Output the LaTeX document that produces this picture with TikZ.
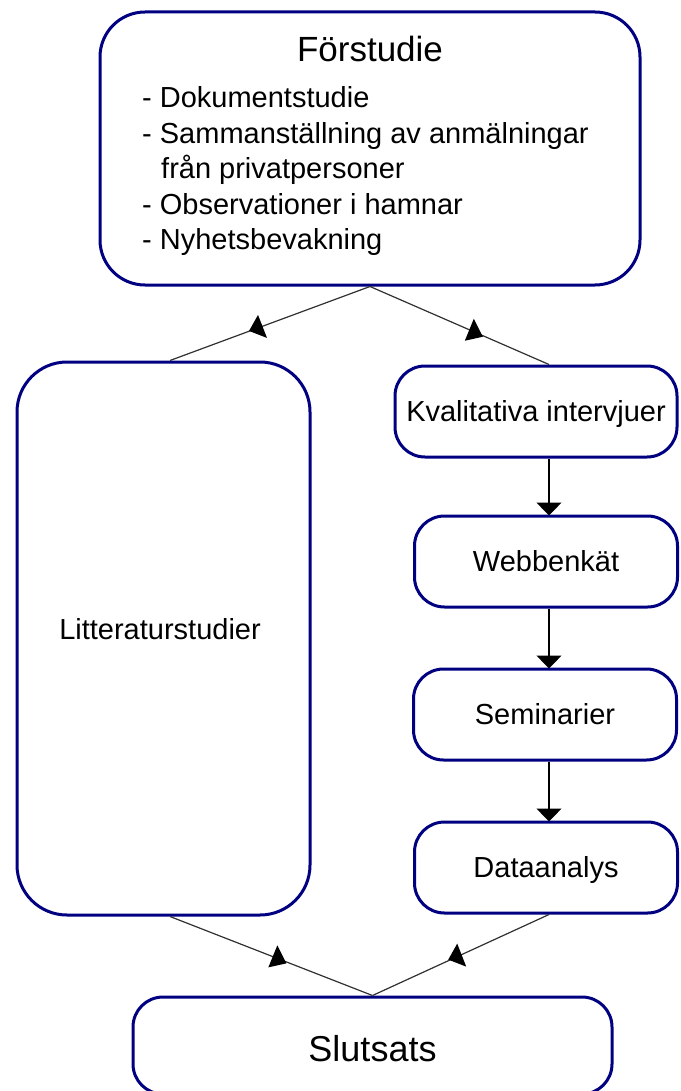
\documentclass[tikz,border=0pt]{standalone}
\usepackage{fontspec}
\setmainfont{Liberation Sans}
\usetikzlibrary{arrows.meta,decorations.markings}
\definecolor{boxblue}{HTML}{000080}
\definecolor{linegray}{HTML}{303030}
\begin{document}
\begin{tikzpicture}[x=1pt,y=-1pt,
  box/.style={draw=boxblue,line width=3pt,rounded corners=#1,inner sep=0pt,
    align=center,text height=20.8pt,text depth=0pt,font=\fontsize{29}{35}\selectfont},
  box/.default=30pt,
  body/.style={font=\fontsize{29}{35}\selectfont,inner sep=0pt},
  dline/.style={draw=linegray,line width=1.2pt},
  varrow/.style={draw=black,line width=1.2pt,-{Triangle[width=25pt,length=13pt]},shorten >=-1pt},
  midtriL/.style={postaction={decorate},decoration={markings,mark=at position #1 with {%
    \pgftransformresetnontranslations
    \fill[black] (0pt,13pt) -- (-9pt,-3pt) -- (9pt,-10pt) -- cycle;}}},
  midtriR/.style={postaction={decorate},decoration={markings,mark=at position #1 with {%
    \pgftransformresetnontranslations
    \fill[black] (0pt,13pt) -- (-9pt,-9pt) -- (9pt,-5pt) -- cycle;}}},
]
\useasboundingbox (0,0) rectangle (680,1091);

% boxes
\node[box=45pt,minimum width=540pt,minimum height=273pt] (fs) at (370,148.5) {};
\node[box=50pt,minimum width=293pt,minimum height=553pt] (litt) at (163.5,638.5) {};
\node[box,minimum width=282pt,minimum height=91pt] (kval) at (536,411.5) {Kvalitativa intervjuer};
\node[box,minimum width=263pt,minimum height=91pt] (webb) at (546,561.5) {Webbenkät};
\node[box,minimum width=263pt,minimum height=91pt] (sem) at (545,714.5) {Seminarier};
\node[box,minimum width=263pt,minimum height=91pt] (data) at (546,867.5) {Dataanalys};
\node[box,minimum width=479pt,minimum height=97pt,text height=32.8pt,font=\fontsize{36}{42}\selectfont] (slut) at (372.5,1045.5) {Slutsats};

% texts of the first box
\node[anchor=base,inner sep=0pt,font=\fontsize{35}{42}\selectfont] (fstitle) at (370,62) {Förstudie};
\node[body,anchor=base west] (fs1) at (142,108) {- Dokumentstudie};
\node[body,anchor=base west] (fs2) at (142,143.5) {- Sammanställning av anmälningar};
\node[body,anchor=base west] (fs3) at (161,179) {från privatpersoner};
\node[body,anchor=base west] (fs4) at (142,214.5) {- Observationer i hamnar};
\node[body,anchor=base west] (fs5) at (142,250) {- Nyhetsbevakning};
\node[body,text height=20.8pt,text depth=0pt] (litttxt) at (160,629) {Litteraturstudier};

% connection columns
\coordinate (colx) at (549,0);
\coordinate (lx) at (170,0);

% diagonal connectors
\draw[dline,midtriL=0.56] (fs.south) -- (litt.north -| lx);
\draw[dline,midtriR=0.58] (fs.south) -- (kval.north -| colx);
\draw[dline,midtriR=0.53] (litt.south -| lx) -- (slut.north);
\draw[dline,midtriL=0.52] (data.south -| colx) -- (slut.north);

% vertical arrows
\draw[varrow] (kval.south -| colx) -- (webb.north -| colx);
\draw[varrow] (webb.south -| colx) -- (sem.north -| colx);
\draw[varrow] (sem.south -| colx) -- (data.north -| colx);
\end{tikzpicture}
\end{document}
